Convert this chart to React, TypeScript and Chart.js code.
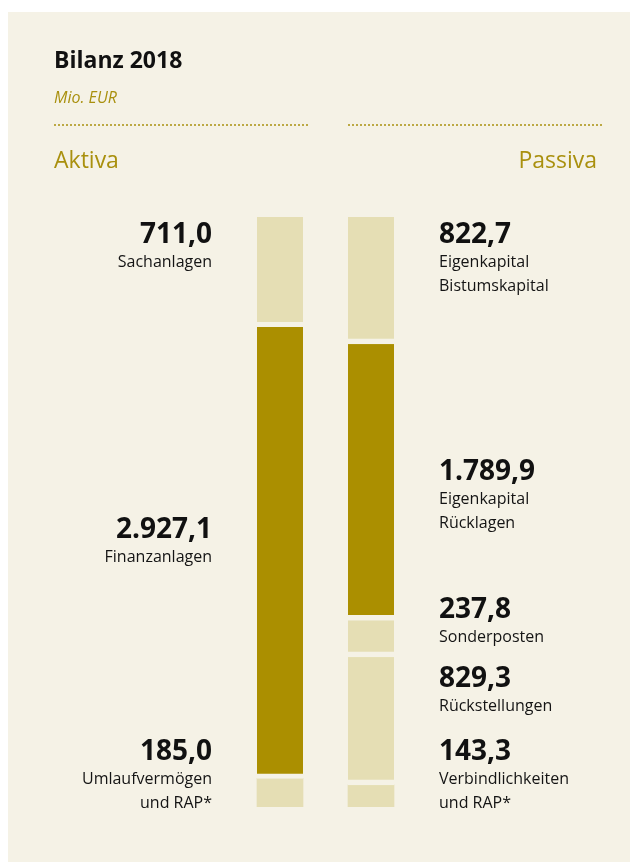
import React, { useEffect, useRef } from "react";
import { Chart, registerables } from "chart.js";

Chart.register(...registerables);

// ---- data ----
const categories = ["Aktiva", "Passiva"];
const aktivaValues = [711.0, 2927.1, 185.0];
const aktivaLabels = [["Sachanlagen"], ["Finanzanlagen"], ["Umlaufvermögen", "und RAP*"]];
const aktivaHighlight = [false, true, false];
const passivaValues = [822.7, 1789.9, 237.8, 829.3, 143.3];
const passivaLabels = [
  ["Eigenkapital", "Bistumskapital"],
  ["Eigenkapital", "Rücklagen"],
  ["Sonderposten"],
  ["Rückstellungen"],
  ["Verbindlichkeiten", "und RAP*"],
];
const passivaHighlight = [false, true, false, false, false];
const titleText = "Bilanz 2018";
const unitText = "Mio. EUR";

// ---- layout / style (not data) ----
const aktivaLabelAnchors = [
  { anchor: "start", dy: 26 },
  { anchor: "mid", dy: -15 },
  { anchor: "end", dy: -47 },
];
const passivaLabelAnchors = [
  { anchor: "start", dy: 26 },
  { anchor: "mid", dy: -2 },
  { anchor: "start", dy: -2 },
  { anchor: "start", dy: 30 },
  { anchor: "end", dy: -47 },
];

const BG = "#f5f2e6";
const LIGHT = "#e5deb4";
const DARK = "#ab8f00";
const GOLD = "#a9900e";
const INK = "#111111";
const FONT = "'Open Sans', 'DejaVu Sans', sans-serif";
const W = 630;
const H = 854;

function fmtDe(v: number): string {
  const fixed = v.toFixed(1);
  const [intPart, dec] = fixed.split(".");
  const withSep = intPart.replace(/\B(?=(\d{3})+(?!\d))/g, ".");
  return withSep + "," + dec;
}

const labelPlugin = {
  id: "bilanzLabels",
  afterDraw(chart: any) {
    const ctx = chart.ctx as CanvasRenderingContext2D;
    const y = chart.scales.y;
    ctx.save();

    // header
    ctx.textBaseline = "alphabetic";
    ctx.textAlign = "left";
    ctx.fillStyle = INK;
    ctx.font = `bold 23px ${FONT}`;
    ctx.fillText(titleText, 46, 56);
    ctx.fillStyle = GOLD;
    ctx.font = `italic 16px ${FONT}`;
    ctx.fillText(unitText, 46, 91);

    // dotted rules
    ctx.fillStyle = GOLD;
    const drawDots = (x0: number, x1: number, yy: number) => {
      for (let x = x0; x <= x1; x += 4) {
        ctx.beginPath();
        ctx.arc(x + 1, yy, 1, 0, Math.PI * 2);
        ctx.fill();
      }
    };
    drawDots(46, 298, 113);
    drawDots(340, 592, 113);

    ctx.font = `23px ${FONT}`;
    ctx.fillStyle = GOLD;
    ctx.textAlign = "left";
    ctx.fillText(categories[0], 46, 156);
    ctx.textAlign = "right";
    ctx.fillText(categories[1], 589, 156);

    // segment labels
    const drawSide = (
      values: number[],
      labels: string[][],
      anchors: { anchor: string; dy: number }[],
      side: "left" | "right"
    ) => {
      let cum = 0;
      values.forEach((v, i) => {
        const p0 = y.getPixelForValue(cum);
        const p1 = y.getPixelForValue(cum + v);
        cum += v;
        const a = anchors[i];
        let base: number;
        if (a.anchor === "start") base = p0 + a.dy;
        else if (a.anchor === "end") base = p1 + a.dy;
        else base = (p0 + p1) / 2 + a.dy;
        const x = side === "left" ? 204 : 431;
        ctx.textAlign = side === "left" ? "right" : "left";
        ctx.fillStyle = INK;
        ctx.font = `bold 28px ${FONT}`;
        ctx.fillText(fmtDe(v), x, base);
        ctx.font = `16px ${FONT}`;
        ctx.fillStyle = "#141414";
        labels[i].forEach((line, j) => {
          ctx.fillText(line, x, base + 24 * (j + 1));
        });
      });
    };
    drawSide(aktivaValues, aktivaLabels, aktivaLabelAnchors, "left");
    drawSide(passivaValues, passivaLabels, passivaLabelAnchors, "right");

    ctx.restore();
  },
};

export default function App() {
  const ref = useRef<HTMLCanvasElement | null>(null);

  useEffect(() => {
    document.documentElement.style.overflow = "hidden";
    const canvas = ref.current;
    if (!canvas) return;

    const datasets: any[] = [];
    aktivaValues.forEach((v, i) => {
      datasets.push({
        label: aktivaLabels[i].join(" "),
        data: [v, null],
        stack: "s",
        backgroundColor: aktivaHighlight[i] ? DARK : LIGHT,
        borderColor: BG,
        borderWidth: { top: 0, left: 0, right: 0, bottom: i < aktivaValues.length - 1 ? 5 : 0 },
        borderSkipped: false,
      });
    });
    passivaValues.forEach((v, i) => {
      datasets.push({
        label: passivaLabels[i].join(" "),
        data: [null, v],
        stack: "s",
        backgroundColor: passivaHighlight[i] ? DARK : LIGHT,
        borderColor: BG,
        borderWidth: { top: 0, left: 0, right: 0, bottom: i < passivaValues.length - 1 ? 5.5 : 0 },
        borderSkipped: false,
      });
    });

    const total = Math.max(
      aktivaValues.reduce((s, v) => s + v, 0),
      passivaValues.reduce((s, v) => s + v, 0)
    );

    const chart = new Chart(canvas, {
      type: "bar",
      data: { labels: categories, datasets },
      options: {
        animation: false,
        responsive: false,
        devicePixelRatio: 1,
        layout: { padding: { top: 205, bottom: 59, left: 226.5, right: 221.5 } },
        datasets: { bar: { barThickness: 46 } },
        plugins: { legend: { display: false }, tooltip: { enabled: false }, title: { display: false } },
        scales: {
          x: { stacked: true, display: false, offset: true },
          y: { stacked: true, display: false, reverse: true, min: 0, max: total },
        },
      },
      plugins: [labelPlugin],
    });
    return () => chart.destroy();
  }, []);

  return (
    <div style={{ position: "relative", top: 4, width: W, height: H, background: BG }}>
      <canvas ref={ref} width={W} height={H} style={{ display: "block", width: W, height: H }} />
    </div>
  );
}
